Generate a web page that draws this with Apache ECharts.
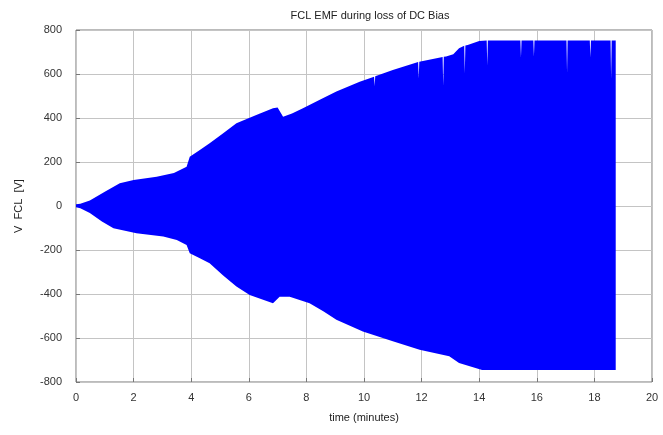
<!DOCTYPE html>
<html>
<head>
<meta charset="utf-8">
<script src="https://cdn.jsdelivr.net/npm/echarts@6/dist/echarts.min.js"></script>
<style>html,body{margin:0;padding:0;background:#fff}#c{width:663px;height:435px}</style>
</head>
<body>
<div id="c"></div>
<script>
// Envelope of the FCL EMF oscillation (time in minutes, volts)
const upperTime = [0, 0.15, 0.48, 1.0, 1.52, 2.0, 2.8, 3.4, 3.84, 3.95, 4.3, 4.64, 5.1, 5.57, 6.26, 6.84, 7.0, 7.19, 7.5, 7.88, 8.5, 9.04, 9.85, 10.35, 10.37, 10.39, 11.0, 11.88, 11.9, 11.92, 12.73, 12.75, 12.77, 12.85, 13.1, 13.3, 13.48, 13.5, 13.52, 13.6, 14.0, 14.26, 14.28, 14.3, 15.43, 15.45, 15.47, 15.88, 15.9, 15.92, 17.03, 17.05, 17.07, 17.84, 17.86, 17.88, 18.56, 18.58, 18.6, 18.74];
const upperV =    [8, 10, 25, 65, 103, 118, 133, 150, 178, 224, 255, 285, 330, 376, 414, 444, 448, 406, 420, 444, 485, 520, 565, 588, 545, 590, 618, 654, 580, 656, 677, 545, 678, 680, 690, 717, 728, 605, 729, 732, 750, 752, 640, 752, 752, 675, 752, 752, 680, 752, 752, 605, 752, 752, 675, 752, 752, 580, 752, 752];
const lowerTime = [0, 0.15, 0.48, 0.9, 1.3, 2.1, 3.03, 3.5, 3.84, 3.95, 4.3, 4.64, 5.1, 5.57, 6.03, 6.84, 7.07, 7.42, 8.11, 8.6, 9.04, 9.96, 11.0, 11.93, 12.96, 13.3, 13.7, 14.1, 18.74];
const lowerV =    [-6, -10, -32, -70, -101, -124, -139, -155, -177, -215, -238, -260, -315, -366, -404, -442, -412, -412, -442, -480, -517, -570, -615, -653, -683, -714, -730, -745, -745];
const xTicks = [0, 20, 2];   // min, max, interval
const yTicks = [-800, 800, 200];

const up = upperTime.map((t, i) => [t, upperV[i]]);
const lo = lowerTime.map((t, i) => [t, lowerV[i]]);

const chart = echarts.init(document.getElementById('c'), null, {renderer: 'canvas'});
const font = 'Liberation Sans, Arial, sans-serif';
const axisCommon = {
  axisLine: {show: false, onZero: false},
  axisTick: {show: true, inside: true, length: 4, lineStyle: {color: '#777'}},
  splitLine: {show: true, lineStyle: {color: '#c4c4c4', width: 1}}
};
chart.setOption({
  animation: false,
  backgroundColor: '#fff',
  title: {
    text: 'FCL EMF during loss of DC Bias',
    left: 365, top: 5, textAlign: 'center',
    textStyle: {fontFamily: font, fontSize: 11, fontWeight: 'normal', color: '#222'}
  },
  grid: {left: 76, right: 11, top: 30, bottom: 53, show: true, borderColor: '#777', borderWidth: 1, backgroundColor: 'transparent'},
  xAxis: Object.assign({
    type: 'value', min: xTicks[0], max: xTicks[1], interval: xTicks[2],
    name: 'time (minutes)', nameLocation: 'middle', nameGap: 30,
    nameTextStyle: {fontFamily: font, fontSize: 11, color: '#222'},
    axisLabel: {fontFamily: font, fontSize: 11, color: '#333', margin: 10}
  }, axisCommon),
  yAxis: Object.assign({
    type: 'value', min: yTicks[0], max: yTicks[1], interval: yTicks[2],
    name: 'V  FCL  [V]', nameLocation: 'middle', nameGap: 52, nameRotate: 90,
    nameTextStyle: {fontFamily: font, fontSize: 11, color: '#222'},
    axisLabel: {fontFamily: font, fontSize: 11, color: '#333', margin: 14}
  }, axisCommon),
  series: [
    {type: 'line', data: up, showSymbol: false, symbol: 'none', silent: true,
     lineStyle: {color: '#0000ff', width: 0}, areaStyle: {color: '#0000ff', opacity: 1, origin: 0}, z: 3},
    {type: 'line', data: lo, showSymbol: false, symbol: 'none', silent: true,
     lineStyle: {color: '#0000ff', width: 0}, areaStyle: {color: '#0000ff', opacity: 1, origin: 0}, z: 3}
  ]
});
</script>
</body>
</html>
